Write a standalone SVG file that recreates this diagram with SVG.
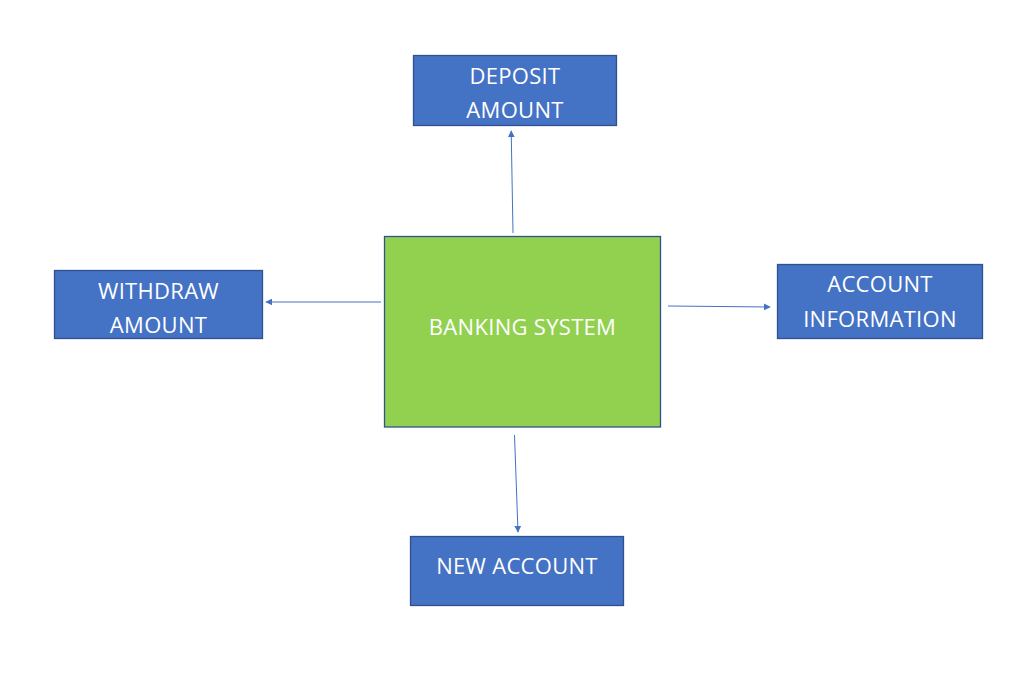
<svg xmlns="http://www.w3.org/2000/svg" width="1036" height="677" viewBox="0 0 1036 677">
<style>
.box{fill:#4472C4;stroke:#2F528F;stroke-width:1.3}
.main{fill:#92D050;stroke:#2F528F;stroke-width:1.3}
.t{font-family:"Open Sans","Noto Sans",sans-serif;font-size:22px;letter-spacing:0.3px;fill:#ffffff;text-anchor:middle}
.c{stroke:#4472C4;stroke-width:1;fill:none;marker-end:url(#ah)}
</style>
<defs>
<marker id="ah" viewBox="0 0 10 10" refX="9" refY="5" markerWidth="7" markerHeight="7" markerUnits="userSpaceOnUse" orient="auto">
<path d="M0,0 L10,5 L0,10 z" fill="#4472C4"/>
</marker>
</defs>
<rect width="1036" height="677" fill="#ffffff"/>
<g id="connectors">
<line class="c" x1="513" y1="233" x2="511.2" y2="131"/>
<line class="c" x1="381" y1="302" x2="266" y2="302"/>
<line class="c" x1="668" y1="306" x2="770" y2="307"/>
<line class="c" x1="514.5" y1="435" x2="518" y2="532"/>
</g>
<g id="banking-system">
<rect class="main" x="384.5" y="236.5" width="276" height="190.5"/>
<text class="t" x="522.5" y="335">BANKING SYSTEM</text>
</g>
<g id="deposit-amount">
<rect class="box" x="413.5" y="55.5" width="203" height="70"/>
<text class="t" x="515" y="84">DEPOSIT</text>
<text class="t" x="515" y="118">AMOUNT</text>
</g>
<g id="withdraw-amount">
<rect class="box" x="54.5" y="270.5" width="208" height="68"/>
<text class="t" x="158.5" y="299.3">WITHDRAW</text>
<text class="t" x="158.5" y="332.7">AMOUNT</text>
</g>
<g id="account-information">
<rect class="box" x="777.5" y="264.5" width="205" height="74"/>
<text class="t" x="880" y="292.3">ACCOUNT</text>
<text class="t" x="880" y="326.7">INFORMATION</text>
</g>
<g id="new-account">
<rect class="box" x="410.5" y="536.5" width="213" height="69"/>
<text class="t" x="517" y="573.7">NEW ACCOUNT</text>
</g>
</svg>
